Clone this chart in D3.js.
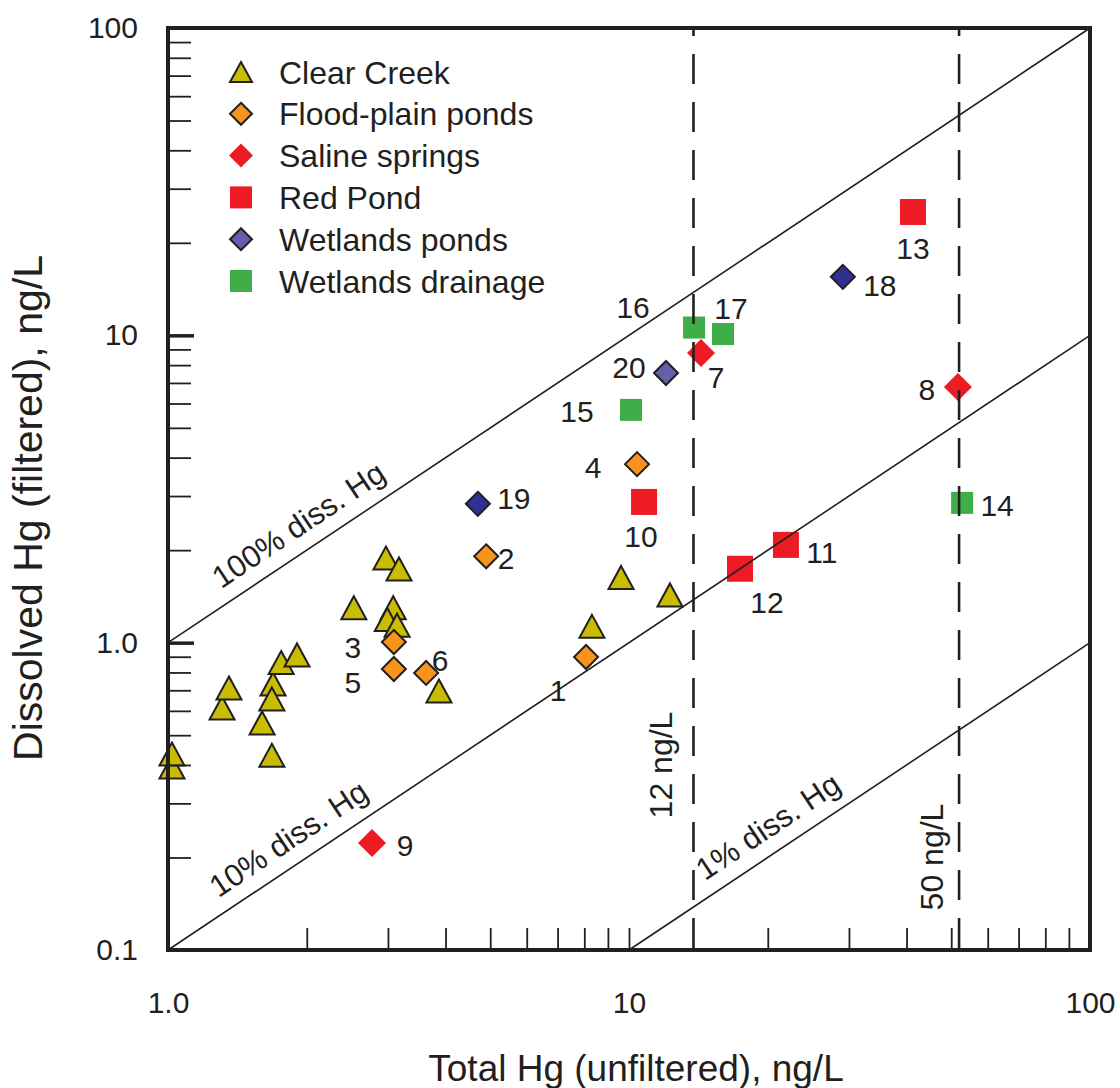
<!DOCTYPE html>
<html>
<head>
<meta charset="utf-8">
<script src="https://cdn.jsdelivr.net/npm/d3@7"></script>
<style>
  body { margin: 0; background: #fff; }
  text { font-family: "Liberation Sans", Arial, Helvetica, sans-serif; fill: #231f20; }
</style>
</head>
<body>
<svg id="chart" width="1120" height="1088"></svg>
<script>
// Data (ng/L). Clear Creek samples carry no number.
// [total Hg (unfiltered), dissolved Hg (filtered)]
var clearCreek = [
  [1.02, 0.394], [1.02, 0.434], [1.31, 0.613], [1.356, 0.712], [1.60, 0.548],
  [1.68, 0.43], [1.69, 0.734], [1.68, 0.656], [1.76, 0.862], [1.905, 0.912],
  [2.53, 1.30], [2.97, 1.886], [3.17, 1.737], [3.08, 1.30], [2.99, 1.19],
  [3.14, 1.14], [3.87, 0.696], [9.61, 1.63], [12.27, 1.43], [8.31, 1.13]
];
// [sample no., total Hg, dissolved Hg]
var floodPlainPonds = [[1, 8.07, 0.898], [2, 4.90, 1.91], [3, 3.09, 1.005], [4, 10.41, 3.81], [5, 3.09, 0.821], [6, 3.63, 0.797]];
var salineSprings = [[7, 14.33, 8.76], [8, 51.7, 6.79], [9, 2.77, 0.223]];
var redPond = [[10, 10.78, 2.87], [11, 21.9, 2.08], [12, 17.41, 1.74], [13, 41.3, 25.2]];
var wetlandsPonds = [[18, 29.1, 15.5], [19, 4.70, 2.83], [20, 12.03, 7.54]];
var wetlandsDrainage = [[14, 52.8, 2.85], [15, 10.1, 5.72], [16, 13.84, 10.6], [17, 15.99, 10.1]];

var seriesNames = ["Clear Creek", "Flood-plain ponds", "Saline springs", "Red Pond", "Wetlands ponds", "Wetlands drainage"];

var xTickValues = [1, 10, 100];
var xTickLabels = ["1.0", "10", "100"];
var yTickValues = [0.1, 1, 10, 100];
var yTickLabels = ["0.1", "1.0", "10", "100"];

// percent dissolved reference lines (dissolved / total)
var diagRatios = [1, 0.1, 0.01];
var diagLabels = ["100% diss. Hg", "10% diss. Hg", "1% diss. Hg"];
// dashed guide lines, total Hg where drawn
var guideAt = [13.8, 52];
var guideLabels = ["12 ng/L", "50 ng/L"];

// ---- layout / style ----
var ink = "#231f20";
var plotL = 168, plotR = 1090, plotT = 28, plotB = 950;

var x = d3.scaleLog().domain([1, 100]).range([plotL, plotR]);
var y = d3.scaleLog().domain([0.1, 100]).range([plotB, plotT]);

var svg = d3.select("#chart");

function triangle(w, h) {
  return "M0," + (-h / 2) + "L" + (w / 2) + "," + (h / 2) + "L" + (-w / 2) + "," + (h / 2) + "Z";
}
function diamond(r) {
  return "M0," + (-r) + "L" + r + ",0L0," + r + "L" + (-r) + ",0Z";
}
function square(s) {
  return "M" + (-s / 2) + "," + (-s / 2) + "h" + s + "v" + s + "h" + (-s) + "Z";
}

var pondShade = {18: "#2e3192", 19: "#2e3192", 20: "#6160a8"};

var series = [
  {data: clearCreek, path: triangle(25, 23), fill: "#c8bd00", stroke: ink, legendPath: triangle(22, 20)},
  {data: floodPlainPonds, path: diamond(12), fill: "#f7941d", stroke: ink, legendPath: diamond(11)},
  {data: salineSprings, path: diamond(14), fill: "#ed1c24", stroke: "none", legendPath: diamond(12)},
  {data: redPond, path: square(26), fill: "#ed1c24", stroke: "none", legendPath: square(22)},
  {data: wetlandsPonds, path: diamond(12), fill: function(d) { return pondShade[d[0]]; }, stroke: ink, legendPath: diamond(11), legendFill: "#6160a8"},
  {data: wetlandsDrainage, path: square(22), fill: "#3fae49", stroke: "none", legendPath: square(22)}
];

// label offsets from the marker centre, px
var labelOffset = {
  1: [-28, 33], 2: [20, 2], 3: [-41, 5], 4: [-44, 3], 5: [-41, 13], 6: [14, -13],
  7: [15, 24], 8: [-31, 2], 9: [33, 2], 10: [-3, 34], 11: [36, 7], 12: [27, 33],
  13: [0, 36], 14: [35, 2], 15: [-54, 1], 16: [-61, -20], 17: [8, -26], 18: [37, 8],
  19: [36, -6], 20: [-37, -6]
};

// ---- markers ----
series.forEach(function(s) {
  var numbered = s.data[0].length === 3;
  svg.append("g").selectAll("path")
    .data(s.data)
    .join("path")
      .attr("d", s.path)
      .attr("transform", function(d) {
        var tx = numbered ? d[1] : d[0], dv = numbered ? d[2] : d[1];
        return "translate(" + x(tx) + "," + y(dv) + ")";
      })
      .attr("fill", s.fill)
      .attr("stroke", s.stroke)
      .attr("stroke-width", 2)
      .attr("stroke-linejoin", "miter");
  if (numbered) {
    svg.append("g").selectAll("text")
      .data(s.data)
      .join("text")
        .attr("x", function(d) { return x(d[1]) + labelOffset[d[0]][0]; })
        .attr("y", function(d) { return y(d[2]) + labelOffset[d[0]][1]; })
        .attr("dy", "0.36em")
        .attr("text-anchor", "middle")
        .style("font-size", "30px")
        .text(function(d) { return d[0]; });
  }
});

// ---- diagonal % lines ----
var angle = Math.atan2(y(1) - y(100), x(100) - x(1)) * 180 / Math.PI;
var diagLabelAt = [2.06, 1.96, 21.5];
diagRatios.forEach(function(r, i) {
  var x0 = Math.max(1, 0.1 / r), x1 = Math.min(100, 100 / r);
  svg.append("line")
    .attr("x1", x(x0)).attr("y1", y(x0 * r))
    .attr("x2", x(x1)).attr("y2", y(x1 * r))
    .attr("stroke", ink).attr("stroke-width", 1.6);
  var t = diagLabelAt[i];
  svg.append("text")
    .attr("transform", "translate(" + x(t) + "," + y(t * r) + ") rotate(" + (-angle) + ")")
    .attr("y", -15)
    .attr("text-anchor", "middle")
    .style("font-size", "31px")
    .text(diagLabels[i]);
});

// ---- dashed guides ----
var guideLabelPos = [[660, 765], [931, 857]];
guideAt.forEach(function(v, i) {
  svg.append("line")
    .attr("x1", x(v)).attr("x2", x(v))
    .attr("y1", plotT).attr("y2", plotB)
    .attr("stroke", ink).attr("stroke-width", 2.6)
    .attr("stroke-dasharray", "30,18")
    .attr("stroke-dashoffset", 22);
  svg.append("text")
    .attr("transform", "translate(" + guideLabelPos[i][0] + "," + guideLabelPos[i][1] + ") rotate(-90)")
    .attr("dy", "0.36em")
    .attr("text-anchor", "middle")
    .style("font-size", "32px")
    .text(guideLabels[i]);
});

// ---- ticks ----
var xMinor = x.ticks().filter(function(v) { return v > 1 && v < 100; });
var yMinor = y.ticks().filter(function(v) { return v > 0.1 && v < 100; });
var isDecade = function(v) { return Math.abs(Math.log10(v) - Math.round(Math.log10(v))) < 1e-6; };

svg.append("g")
  .attr("transform", "translate(0," + plotB + ")")
  .call(d3.axisBottom(x).tickValues(xMinor).tickSize(-22).tickFormat(""))
  .call(function(g) { g.select(".domain").remove(); })
  .attr("color", ink)
  .selectAll("line").attr("stroke-width", 1.8);

var yAxis = svg.append("g")
  .attr("transform", "translate(" + plotL + ",0)")
  .call(d3.axisLeft(y).tickValues(yMinor).tickSize(-23).tickFormat(""))
  .call(function(g) { g.select(".domain").remove(); })
  .attr("color", ink);
yAxis.selectAll(".tick line")
  .attr("stroke-width", function(d) { return isDecade(d) ? 3.5 : 1.8; })
  .attr("x2", function(d) { return isDecade(d) ? 26 : 23; });

// tick labels
svg.append("g")
  .attr("transform", "translate(0," + plotB + ")")
  .call(d3.axisBottom(x).tickValues(xTickValues).tickSize(0).tickPadding(42)
    .tickFormat(function(d, i) { return xTickLabels[i]; }))
  .call(function(g) { g.select(".domain").remove(); })
  .attr("font-family", null).attr("font-size", null)
  .selectAll("text").style("font-size", "30px");

svg.append("g")
  .attr("transform", "translate(" + plotL + ",0)")
  .call(d3.axisLeft(y).tickValues(yTickValues).tickSize(0).tickPadding(30)
    .tickFormat(function(d, i) { return yTickLabels[i]; }))
  .call(function(g) { g.select(".domain").remove(); })
  .attr("font-family", null).attr("font-size", null)
  .selectAll("text").style("font-size", "30px");

// frame
svg.append("rect")
  .attr("x", plotL).attr("y", plotT)
  .attr("width", plotR - plotL).attr("height", plotB - plotT)
  .attr("fill", "none").attr("stroke", ink).attr("stroke-width", 4);

// axis titles
svg.append("text")
  .attr("x", (plotL + plotR) / 2 + 7).attr("y", 1068)
  .attr("dy", "0.36em")
  .attr("text-anchor", "middle")
  .style("font-size", "37px")
  .text("Total Hg (unfiltered), ng/L");

svg.append("text")
  .attr("transform", "translate(27,508) rotate(-90)")
  .attr("dy", "0.36em")
  .attr("text-anchor", "middle")
  .style("font-size", "41px")
  .text("Dissolved Hg (filtered), ng/L");

// ---- legend ----
var legend = svg.append("g").attr("transform", "translate(241,72)");
var rows = legend.selectAll("g")
  .data(series)
  .join("g")
    .attr("transform", function(d, i) { return "translate(0," + (i * 41.8) + ")"; });
rows.append("path")
  .attr("d", function(d) { return d.legendPath; })
  .attr("fill", function(d) { return d.legendFill || d.fill; })
  .attr("stroke", function(d) { return d.stroke; })
  .attr("stroke-width", 2);
rows.append("text")
  .attr("x", 38)
  .attr("dy", "0.36em")
  .style("font-size", "32px")
  .text(function(d, i) { return seriesNames[i]; });
</script>
</body>
</html>
